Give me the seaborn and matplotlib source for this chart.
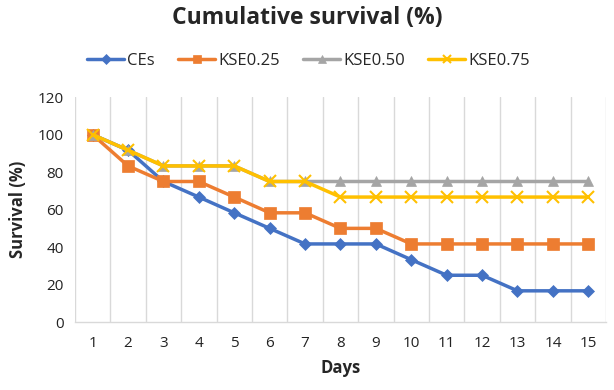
import matplotlib
matplotlib.use("Agg")
import matplotlib.pyplot as plt
import seaborn as sns
import pandas as pd

days = list(range(1, 16))
ces = [100, 91.7, 75, 66.7, 58.3, 50, 41.7, 41.7, 41.7, 33.3, 25, 25, 16.7, 16.7, 16.7]
kse025 = [100, 83.3, 75, 75, 66.7, 58.3, 58.3, 50, 50, 41.7, 41.7, 41.7, 41.7, 41.7, 41.7]
kse050 = [100, 91.7, 83.3, 83.3, 83.3, 75, 75, 75, 75, 75, 75, 75, 75, 75, 75]
kse075 = [100, 91.7, 83.3, 83.3, 83.3, 75, 75, 66.7, 66.7, 66.7, 66.7, 66.7, 66.7, 66.7, 66.7]

series_names = ["CEs", "KSE0.25", "KSE0.50", "KSE0.75"]
series_values = [ces, kse025, kse050, kse075]
colors = ["#4472C4", "#ED7D31", "#A5A5A5", "#FFC000"]
markers = ["D", "s", "^", "x"]
sizes = [6, 8, 7, 8]

sns.set_theme(style="white")
plt.rcParams["font.family"] = ["Open Sans", "DejaVu Sans"]

fig = plt.figure(figsize=(6.14, 3.9), dpi=100)
ax = fig.add_axes([0.122, 0.174, 0.865, 0.577])

for name, vals, c, m, s in zip(series_names, series_values, colors, markers, sizes):
    df = pd.DataFrame({"Days": days, "Survival": vals})
    sns.lineplot(data=df, x="Days", y="Survival", ax=ax, color=c, marker=m,
                 markersize=s, linewidth=2.5, label=name,
                 markeredgecolor=c, markeredgewidth=1.5 if m == "x" else 0.5)

ax.set_xlim(0.5, 15.5)
ax.set_ylim(0, 120)
ax.set_xticks(days)
ax.set_yticks(range(0, 121, 20))
ax.tick_params(axis="both", labelsize=11, length=0, colors="#222222")
ax.tick_params(axis="x", pad=10)
ax.tick_params(axis="y", pad=8)

# vertical gridlines between categories, Excel style
for xb in [d - 0.5 for d in days] + [15.5]:
    ax.axvline(xb, color="#D9D9D9", linewidth=1, zorder=0)

for sp in ["top", "right", "left"]:
    ax.spines[sp].set_visible(False)
ax.spines["bottom"].set_color("#D9D9D9")
ax.spines["bottom"].set_linewidth(1)

ax.set_xlabel("Days", fontsize=12, fontweight="bold", labelpad=6)
ax.set_ylabel("Survival (%)", fontsize=12, fontweight="bold", labelpad=8)

fig.suptitle("Cumulative survival (%)", fontsize=16.5, fontweight="bold", y=0.985)
ax.legend(loc="center", bbox_to_anchor=(0.44, 1.16), ncol=4, frameon=False,
          fontsize=12, handlelength=2.2, columnspacing=1.4, handletextpad=0.2,
          markerscale=0.8)

fig.savefig("out.png", dpi=100)
